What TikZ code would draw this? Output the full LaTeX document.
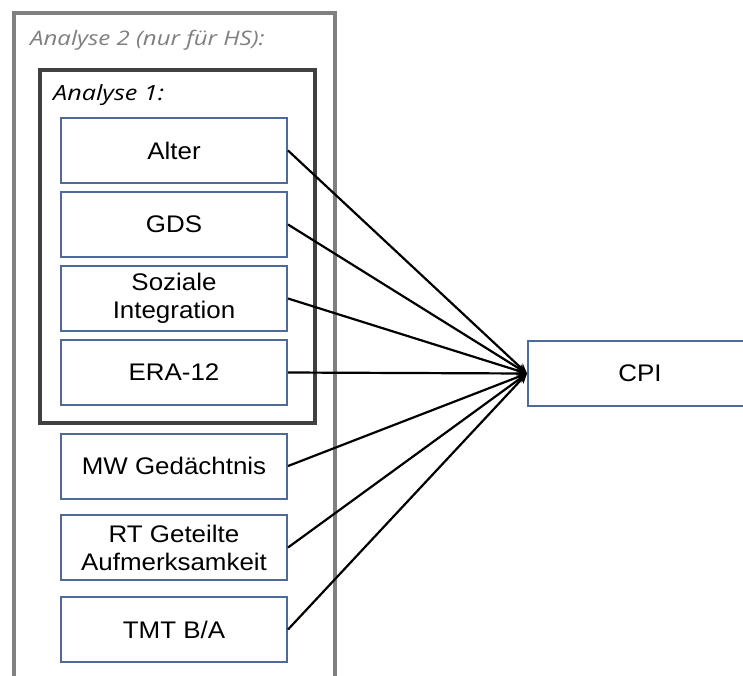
\documentclass[tikz,border=0pt]{standalone}
\usepackage{fontspec}
\setmainfont{Liberation Sans}
\newfontfamily\boxfont{Liberation Sans}[FakeStretch=1.08]
\newfontfamily\labfont{Open Sans}[FakeStretch=1.2]
\usetikzlibrary{arrows.meta}
\definecolor{boxblue}{RGB}{79,105,152}
\definecolor{outergray}{RGB}{128,128,128}
\definecolor{innergray}{RGB}{64,64,64}
\tikzset{
  varbox/.style={draw=boxblue, line width=2pt, fill=white, minimum width=226pt, minimum height=65pt,
    inner sep=0pt, align=center, font=\boxfont\fontsize{24}{28}\selectfont},
  conn/.style={line width=2.2pt, -{Stealth[length=10pt,width=9pt]}},
  grouplabel/.style={anchor=base west, inner sep=0pt, font=\labfont\itshape\fontsize{20}{24}\selectfont}
}
\begin{document}
\begin{tikzpicture}[x=1pt,y=-1pt]
\useasboundingbox (0,0) rectangle (743,675);
\clip (0,0) rectangle (743,675);
\fill[white] (0,0) rectangle (743,675);
% outer group (open at bottom)
\draw[outergray, line width=3.5pt] (14,690) -- (14,13) -- (335,13) -- (335,690);
\node[grouplabel, text=outergray] (l2) at (30,45) {Analyse 2 (nur für HS):};
% inner group
\draw[innergray, line width=3.5pt] (40,70) rectangle (315,423);
\node[grouplabel, text=black, font=\labfont\itshape\fontsize{21}{24}\selectfont] (l1) at (53,100) {Analyse 1:};
% variable boxes
\node[varbox] (alter) at (174,150.5) {Alter};
\node[varbox] (gds) at (174,224.5) {GDS};
\node[varbox] (soz) at (174,298.5) {Soziale\\Integration};
\node[varbox] (era) at (174,372.5) {ERA-12};
\node[varbox] (mw) at (174,466) {MW Gedächtnis};
\node[varbox] (rt) at (174,547.5) {RT Geteilte\\Aufmerksamkeit};
\node[varbox] (tmt) at (174,629.5) {TMT B/A};
% outcome
\node[varbox, minimum width=224pt] (cpi) at (640,373.5) {CPI};
% connectors
\foreach \n in {alter,gds,soz,era,mw,rt,tmt}
  \draw[conn] (\n.east) -- (cpi.west);
\end{tikzpicture}
\end{document}
